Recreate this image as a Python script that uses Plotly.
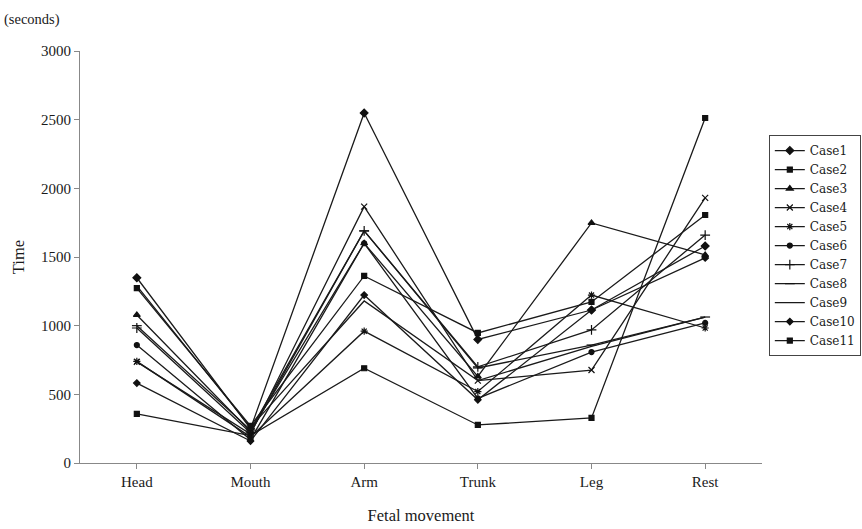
import plotly.graph_objects as go

categories = ["Head", "Mouth", "Arm", "Trunk", "Leg", "Rest"]

case1 = [1349, 250, 2549, 900, 1114, 1580]
case2 = [357, 200, 690, 277, 328, 2512]
case3 = [1078, 230, 1600, 630, 1748, 1515]
case4 = [736, 210, 1867, 600, 677, 1930]
case5 = [740, 190, 960, 520, 1223, 983]
case6 = [859, 170, 1600, 470, 808, 1020]
case7 = [983, 220, 1690, 700, 969, 1660]
case8 = [1000, 240, 1690, 692, 859, 1063]
case9 = [1290, 260, 1180, 600, 850, 1063]
case10 = [582, 160, 1223, 460, 1114, 1493]
case11 = [1274, 270, 1362, 947, 1173, 1806]

series = [
    ("Case1", case1, "diamond", 6),
    ("Case2", case2, "square", 5),
    ("Case3", case3, "triangle-up", 6),
    ("Case4", case4, "x-thin", 6),
    ("Case5", case5, "asterisk", 6),
    ("Case6", case6, "circle", 5),
    ("Case7", case7, "cross-thin", 7),
    ("Case8", case8, "line-ew", 7),
    ("Case9", case9, None, 0),
    ("Case10", case10, "diamond", 5),
    ("Case11", case11, "square", 5),
]

fig = go.Figure()
for name, vals, sym, size in series:
    if sym is None:
        fig.add_trace(go.Scatter(
            x=categories, y=vals, name=name, mode="lines",
            line=dict(color="#1a1a1a", width=1.3)))
    else:
        fig.add_trace(go.Scatter(
            x=categories, y=vals, name=name, mode="lines+markers",
            line=dict(color="#1a1a1a", width=1.3),
            marker=dict(symbol=sym, size=size, color="#111111",
                        line=dict(color="#111111", width=1.2)),
        ))

fig.update_layout(
    width=862, height=529,
    margin=dict(l=80, r=100, t=51, b=66, autoexpand=False),
    paper_bgcolor="white", plot_bgcolor="white",
    font=dict(family="Liberation Serif", size=15, color="#1a1a1a"),
    showlegend=True,
    legend=dict(x=1.01, y=0.796, xanchor="left", yanchor="top",
                bordercolor="#444444", borderwidth=1,
                font=dict(family="DejaVu Serif", size=12,
                          color="#1a1a1a"),
                itemwidth=30, tracegroupgap=0),
    xaxis=dict(
        type="category", range=[-0.5, 5.5], automargin=False,
        showline=True, linecolor="#888888", linewidth=1,
        ticks="outside", ticklen=5, tickcolor="#888888",
        showgrid=False, zeroline=False,
        title=dict(text="Fetal movement", standoff=20,
                   font=dict(size=16.5)),
    ),
    yaxis=dict(
        range=[0, 3000], dtick=500, automargin=False,
        showline=True, linecolor="#888888",
        linewidth=1, ticks="outside", ticklen=5, tickcolor="#888888",
        showgrid=False, zeroline=False,
        title=dict(text="Time", standoff=12, font=dict(size=16.5)),
    ),
    annotations=[dict(text="(seconds)", xref="paper", yref="paper",
                      x=-0.114, y=1.05, xanchor="left", yanchor="bottom",
                      showarrow=False, font=dict(size=14.5))],
)

fig.write_html("out.html",
               config={"displayModeBar": False},
               post_script="document.body.style.margin='0';")
